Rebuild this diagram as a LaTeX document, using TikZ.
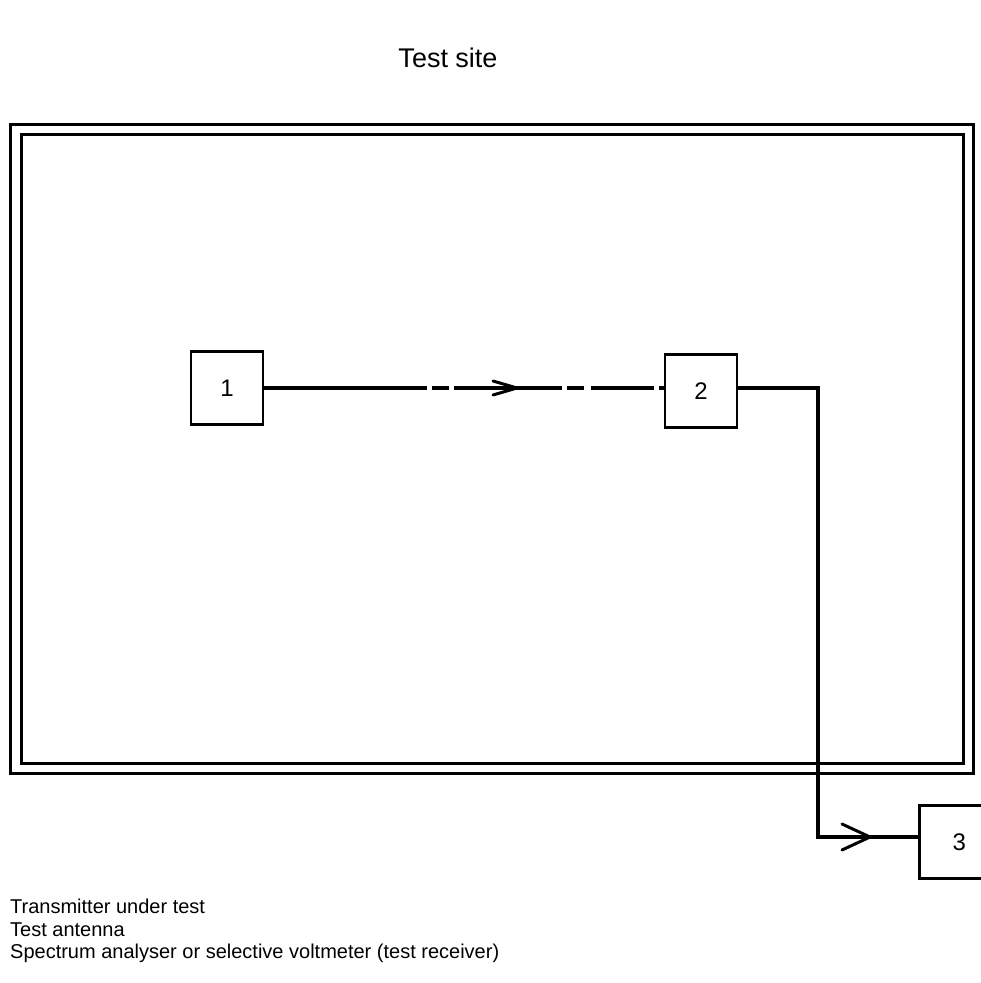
\documentclass[tikz,border=0pt]{standalone}
\usepackage{fontspec}
\setmainfont{Liberation Sans}
\usetikzlibrary{calc}
\begin{document}
\begin{tikzpicture}[x=1pt,y=-1pt,
  frame/.style={draw=black,line width=3pt},
  unit/.style={draw=black,line width=2.6pt,minimum width=72pt,minimum height=73pt,inner sep=0pt,font=\fontsize{24}{28}\selectfont},
  conn/.style={draw=black,line width=3.5pt},
  head/.style={draw=black,line width=3pt,line cap=round,line join=miter}]
\useasboundingbox (0,0) rectangle (981,983);
\node[font=\fontsize{27}{32}\selectfont] (title) at (448,58) {Test site};
\draw[frame] (10,124) rectangle (973,773);
\draw[frame] (21,134) rectangle (963,763);
\node[unit] (u1) at (227,388) {1};
\node[unit] (u2) at (701,391) {2};
\node[unit,minimum width=80pt,anchor=north west] (u3) at (918,804) {3};
\coordinate (bend1) at (818,388);
\coordinate (bend2) at (818,837);
% dash-dot link 1 -> 2
\draw[conn,dash pattern=on 163pt off 5pt on 17pt off 5pt on 108pt off 5pt on 17pt off 7pt on 63pt off 5pt on 5pt] (u1.east |- 0,388) -- (u2.west |- 0,388);
\coordinate (tip1) at (517,388);
\draw[head] ($(tip1)+(-24,-7)$) -- (tip1) -- ($(tip1)+(-24,7)$);
% cable 2 -> 3
\draw[conn,line join=miter] (u2.east |- 0,388) -- (bend1) -- (bend2) -- (u3.west |- bend2);
\coordinate (tip2) at (870,837);
\draw[head] ($(tip2)+(-28,-13)$) -- (tip2) -- ($(tip2)+(-28,13)$);
\node[anchor=west,font=\fontsize{20}{22.5}\selectfont,align=left,inner sep=0pt] (legend) at (10,931) {Transmitter under test\\Test antenna\\Spectrum analyser or selective voltmeter (test receiver)};
\end{tikzpicture}
\end{document}
